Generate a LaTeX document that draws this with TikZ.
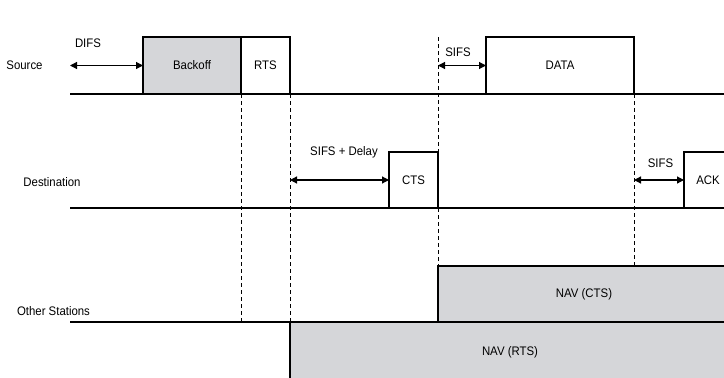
\documentclass[tikz,border=0pt]{standalone}
\usepackage{fontspec}
\setmainfont{Liberation Sans}[FakeStretch=0.92]
\usetikzlibrary{arrows.meta}
\definecolor{navgrey}{RGB}{213,214,217}
\tikzset{
  frame/.style={draw=black, line width=1.2pt, rectangle, anchor=north west, inner sep=0pt, outer sep=0pt, font=\fontsize{12.4}{14}\selectfont},
  shaded/.style={frame, fill=navgrey},
  lbl/.style={inner sep=0pt, font=\fontsize{12.4}{14}\selectfont},
  axis/.style={draw=black, line width=1.2pt},
  guide/.style={draw=black, line width=1pt, dash pattern=on 4pt off 3pt},
  span/.style={draw=black, line width=1.2pt, {Triangle[length=7pt,width=7pt]}-{Triangle[length=7pt,width=7pt]}}
}
\begin{document}
\begin{tikzpicture}[x=1pt,y=-1pt]
\useasboundingbox (0,0) rectangle (724,378);
\clip (0,0) rectangle (724,378);
\fill[white] (0,0) rectangle (724,378);

% boxes
\node[shaded, minimum width=98pt, minimum height=57pt] (backoff) at (143,37) {Backoff};
\node[frame, minimum width=49pt, minimum height=57pt] (rts) at (241,37) {RTS};
\node[frame, minimum width=148pt, minimum height=57pt] (data) at (486,37) {DATA};
\node[frame, minimum width=49pt, minimum height=56pt] (cts) at (389,152) {CTS};
\node[frame, minimum width=48pt, minimum height=56pt] (ack) at (684,152) {ACK};
\node[shaded, minimum width=292pt, minimum height=56pt] (navcts) at (438,266) {NAV (CTS)};
\node[shaded, minimum width=440pt, minimum height=60pt] (navrts) at (290,322) {NAV (RTS)};

% time lines
\coordinate (srcL) at (70,94);
\coordinate (srcR) at (724,94);
\coordinate (dstL) at (70,208);
\coordinate (dstR) at (724,208);
\coordinate (othL) at (70,322);
\coordinate (othR) at (724,322);
\draw[axis] (srcL) -- (srcR);
\draw[axis] (dstL) -- (dstR);
\draw[axis] (othL) -- (othR);

% row labels
\node[lbl] (lsrc) at (24.5,65) {Source};
\node[lbl] (ldst) at (52,182) {Destination};
\node[lbl] (loth) at (53.5,311.5) {Other Stations};

% dashed guides
\draw[guide] (backoff.south east) -- (backoff.south east |- navrts.north);
\draw[guide] (rts.south east) -- (navrts.north west);
\draw[guide] (cts.north east |- data.north) -- (cts.north east);
\draw[guide] (cts.south east) -- (navcts.north west);
\draw[guide] (data.south east) -- (data.south east |- navcts.north);

% interval arrows
\coordinate (difsL) at (70,65.5);
\draw[span] (difsL) -- (backoff.west);
\node[lbl] (ldifs) at (88,43) {DIFS};

\coordinate (delayL) at (rts.east |- cts.west);
\draw[span] (delayL) -- (cts.west);
\node[lbl] (ldelay) at (344,152) {SIFS + Delay};

\coordinate (sifsaL) at (cts.east |- data.west);
\draw[span] (sifsaL) -- (data.west);
\node[lbl] (lsifsa) at (458,52) {SIFS};

\coordinate (sifsbL) at (data.east |- ack.west);
\draw[span] (sifsbL) -- (ack.west);
\node[lbl] (lsifsb) at (660.5,163) {SIFS};
\end{tikzpicture}
\end{document}
